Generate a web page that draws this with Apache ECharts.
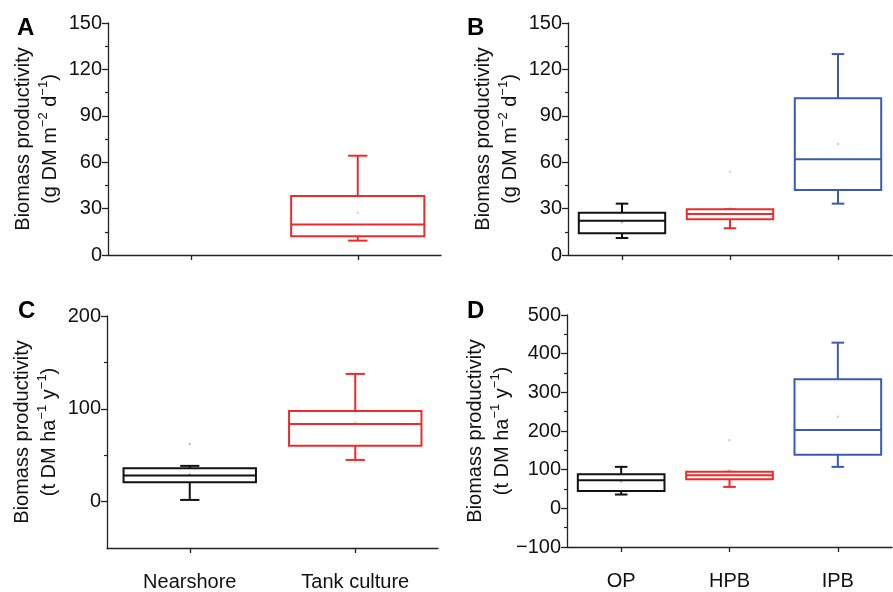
<!DOCTYPE html>
<html>
<head>
<meta charset="utf-8">
<script src="https://cdn.jsdelivr.net/npm/echarts@6/dist/echarts.min.js"></script>
<style>
  html, body { margin: 0; padding: 0; background: #fff; }
  #Chart { width: 893px; height: 592px; }
</style>
</head>
<body>
<div id="Chart"></div>
<script>
var catsTank = ['Nearshore', 'Tank culture'];
var catsBay = ['OP', 'HPB', 'IPB'];

// [category index, min, Q1, median, Q3, max]
var boxA = [[1, 9.3, 12.1, 19.8, 38.1, 64.2]];
var boxB = [
    [0, 11.0, 14.0, 22.2, 27.3, 33.2],
    [1, 17.3, 23.1, 26.5, 29.5, 29.5],
    [2, 33.2, 42.0, 61.9, 101.3, 129.9]
];
var boxC = [
    [0, 1.8, 20.9, 28.0, 36.0, 38.5],
    [1, 44.9, 60.3, 83.7, 97.7, 137.6]
];
var boxD = [
    [0, 35.7, 45.1, 72.8, 88.3, 107.3],
    [1, 55.4, 75.4, 85.8, 94.3, 94.3],
    [2, 107.3, 138.4, 202.3, 333.7, 428.5]
];

// faint mean / outlier markers [category index, value]
var dotsA = [[1, 27.3]];
var dotsB = [[0, 21.1], [1, 53.9], [1, 30.2], [2, 71.8]];
var dotsC = [[0, 62.2], [0, 29.5], [1, 85.0]];
var dotsD = [[0, 69.4], [1, 176.4], [1, 98.7], [2, 236.8]];

var ticksA = { min: 0, max: 150, interval: 30 };
var ticksC = { min: -50, max: 200, interval: 50, labels: [0, 100, 200], minor: [50, 150] };
var ticksD = { min: -100, max: 500, interval: 100 };

var boxColors = ['#111111', '#ee2b2b', '#3a5bb0'];
var dotColors = ['rgba(0,0,0,0.3)', 'rgba(238,43,43,0.35)', 'rgba(58,91,176,0.35)'];
var font = 'Liberation Sans, Arial, sans-serif';
var axisColor = '#222';

var nameRich = {
    a: { fontSize: 20, fontFamily: font, color: '#111', lineHeight: 27 },
    s: { fontSize: 13, fontFamily: font, color: '#111', padding: [0, 0, 14, 0] }
};
var nameG = '{a|Biomass productivity}\n{a|(g DM m}{s|\u22122}{a| d}{s|\u22121}{a|)}';
var nameT = '{a|Biomass productivity}\n{a|(t DM ha}{s|\u22121}{a| y}{s|\u22121}{a|)}';

function renderBox(params, api) {
    var idx = api.value(0);
    var lo = api.coord([idx, api.value(1)]);
    var q1 = api.coord([idx, api.value(2)]);
    var med = api.coord([idx, api.value(3)]);
    var q3 = api.coord([idx, api.value(4)]);
    var hi = api.coord([idx, api.value(5)]);
    var band = api.size([1, 0])[0];
    var hw = band * 0.4;
    var cw = band * 0.058;
    var x = lo[0];
    var style = { stroke: boxColors[idx], lineWidth: 2, fill: null };
    return {
        type: 'group',
        children: [
            { type: 'line', shape: { x1: x, y1: q3[1], x2: x, y2: hi[1] }, style: style },
            { type: 'line', shape: { x1: x, y1: q1[1], x2: x, y2: lo[1] }, style: style },
            { type: 'line', shape: { x1: x - cw, y1: hi[1], x2: x + cw, y2: hi[1] }, style: style },
            { type: 'line', shape: { x1: x - cw, y1: lo[1], x2: x + cw, y2: lo[1] }, style: style },
            { type: 'rect', shape: { x: x - hw, y: q3[1], width: hw * 2, height: q1[1] - q3[1] }, style: { stroke: boxColors[idx], lineWidth: 2, fill: '#fff' } },
            { type: 'line', shape: { x1: x - hw, y1: med[1], x2: x + hw, y2: med[1] }, style: style }
        ]
    };
}

function minusFmt(v) {
    return String(v).replace('-', '\u2212');
}

function xAxisFor(gi, cats, showLabels) {
    return {
        type: 'category', gridIndex: gi, data: cats,
        axisLine: { onZero: false, lineStyle: { color: axisColor, width: 1.3 } },
        axisTick: { show: true, alignWithLabel: true, length: 5, lineStyle: { color: axisColor, width: 1.3 } },
        axisLabel: { show: showLabels, color: '#111', fontSize: 20, fontFamily: font, margin: 24 },
        splitLine: { show: false }
    };
}

function yAxisFor(gi, t, name) {
    var ax = {
        type: 'value', gridIndex: gi, position: 'left',
        min: t.min, max: t.max, interval: t.interval,
        name: name, nameLocation: 'middle', nameRotate: 90, nameGap: 44,
        nameTextStyle: { rich: nameRich },
        axisLine: { show: true, lineStyle: { color: axisColor, width: 1.3 } },
        axisTick: { show: true, length: 6, lineStyle: { color: axisColor, width: 1.3 } },
        minorTick: { show: !t.labels, splitNumber: 2, length: 3, lineStyle: { color: axisColor, width: 1.2 } },
        axisLabel: { color: '#111', fontSize: 20, fontFamily: font, margin: 6, formatter: minusFmt },
        splitLine: { show: false }
    };
    if (t.labels) {
        ax.axisLabel.customValues = t.labels;
        ax.axisTick.customValues = t.labels;
    }
    return ax;
}

function boxSeries(i, data) {
    return {
        type: 'custom', xAxisIndex: i, yAxisIndex: i, renderItem: renderBox,
        encode: { x: 0, y: [1, 2, 3, 4, 5] }, data: data, silent: true
    };
}

function dotSeries(i, data) {
    return {
        type: 'scatter', xAxisIndex: i, yAxisIndex: i, data: data, symbolSize: 2.5,
        silent: true, z: 5,
        itemStyle: { color: function (p) { return dotColors[p.data[0]]; } }
    };
}

var yAxes = [
    yAxisFor(0, ticksA, nameG),
    yAxisFor(1, ticksA, nameG),
    yAxisFor(2, ticksC, nameT),
    yAxisFor(3, ticksD, nameT),
    {   // short ticks between the labelled ones on panel C
        type: 'value', gridIndex: 2, position: 'left',
        min: ticksC.min, max: ticksC.max, interval: ticksC.interval,
        axisLine: { show: false },
        axisTick: { show: true, length: 3, customValues: ticksC.minor, lineStyle: { color: axisColor, width: 1.2 } },
        axisLabel: { show: false },
        splitLine: { show: false }
    }
];

var option = {
    animation: false,
    backgroundColor: '#fff',
    grid: [
        { left: 108, top: 23, width: 333, height: 232 },
        { left: 568, top: 23, width: 324, height: 232 },
        { left: 107, top: 316, width: 331, height: 232 },
        { left: 567, top: 315, width: 325, height: 232 }
    ],
    graphic: [
        { type: 'text', left: 17, top: 16, style: { text: 'A', font: 'bold 24px ' + font, fill: '#000' } },
        { type: 'text', left: 467, top: 16, style: { text: 'B', font: 'bold 24px ' + font, fill: '#000' } },
        { type: 'text', left: 18, top: 299, style: { text: 'C', font: 'bold 24px ' + font, fill: '#000' } },
        { type: 'text', left: 467, top: 299, style: { text: 'D', font: 'bold 24px ' + font, fill: '#000' } }
    ],
    xAxis: [
        xAxisFor(0, catsTank, false),
        xAxisFor(1, catsBay, false),
        xAxisFor(2, catsTank, true),
        xAxisFor(3, catsBay, true)
    ],
    yAxis: yAxes,
    series: [
        boxSeries(0, boxA), dotSeries(0, dotsA),
        boxSeries(1, boxB), dotSeries(1, dotsB),
        boxSeries(2, boxC), dotSeries(2, dotsC),
        boxSeries(3, boxD), dotSeries(3, dotsD)
    ]
};

var myChart = echarts.init(document.getElementById('Chart'));
myChart.setOption(option);
</script>
</body>
</html>
